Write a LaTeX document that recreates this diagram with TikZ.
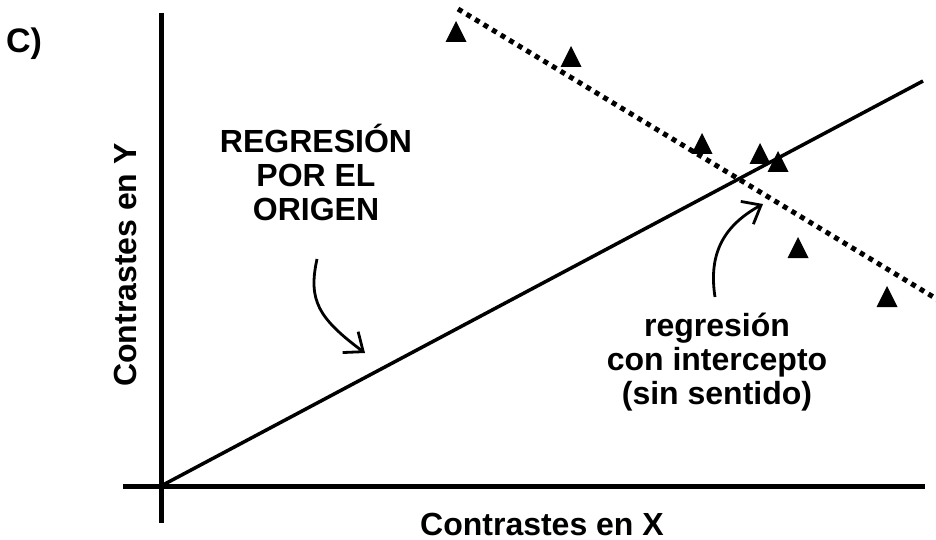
\documentclass[tikz,border=0pt]{standalone}
\usepackage{fontspec}
\setmainfont{Liberation Sans}
\usetikzlibrary{arrows.meta}
\tikzset{
  axisline/.style={line width=5pt},
  regline/.style={line width=3.5pt},
  dotline/.style={line width=5pt,dash pattern=on 5pt off 5pt},
  trifill/.style={fill=black},
  lbl/.style={font=\bfseries\fontsize{32}{34}\selectfont,align=center,inner sep=0pt},
  axlbl/.style={font=\bfseries\fontsize{32}{35}\selectfont,inner sep=0pt},
  callout/.style={line width=2.8pt,-{Straight Barb[length=16pt,width=26pt,line width=2.8pt]}}
}
\begin{document}
\begin{tikzpicture}[x=1pt,y=-1pt]
\useasboundingbox (0,0) rectangle (936,540);
% axes
\coordinate (ytop) at (161,13);
\coordinate (ybot) at (161,523);
\coordinate (xl) at (123,486);
\coordinate (xr) at (925,486);
\coordinate (O) at (161,486);
\draw[axisline] (ytop) -- (ybot);
\draw[axisline] (xl) -- (xr);
% regression lines
\coordinate (regend) at (923,81);
\draw[regline] (O) -- (regend);
\coordinate (ds) at (458,9);
\coordinate (de) at (940,301);
\draw[dotline] (ds) -- (de);
% points (base centre of each triangle)
\foreach \n/\x/\y in {t1/456/42,t2/571/67,t3/702/154,t4/760/164,t5/778/172,t6/798/258,t7/887/307}{
  \coordinate (\n) at (\x,\y);
  \fill[trifill] ([xshift=-10.5pt]\n) -- ([yshift=21pt]\n) -- ([xshift=10.5pt]\n) -- cycle;
}
% labels
\node[axlbl,font=\bfseries\fontsize{34}{36}\selectfont,anchor=base west] (c) at (6,53) {C)};
\node[axlbl,rotate=90,anchor=base] (ylab) at (136,265) {Contrastes en Y};
\node[axlbl,anchor=base] (xlab) at (542,535) {Contrastes en X};
\node[lbl] (orig) at (316,172) {REGRESIÓN\\POR EL\\ORIGEN};
\node[lbl] (inter) at (717,362) {regresión\\con intercepto\\(sin sentido)};
% callout arrows
\coordinate (a1s) at (317,259);
\coordinate (a1e) at (365,353);
\draw[callout] (a1s) .. controls (308,300) and (318,318) .. (a1e);
\coordinate (a2s) at (715,297);
\coordinate (a2e) at (763,204);
\draw[callout] (a2s) .. controls (708,252) and (725,225) .. (a2e);
\end{tikzpicture}
\end{document}
